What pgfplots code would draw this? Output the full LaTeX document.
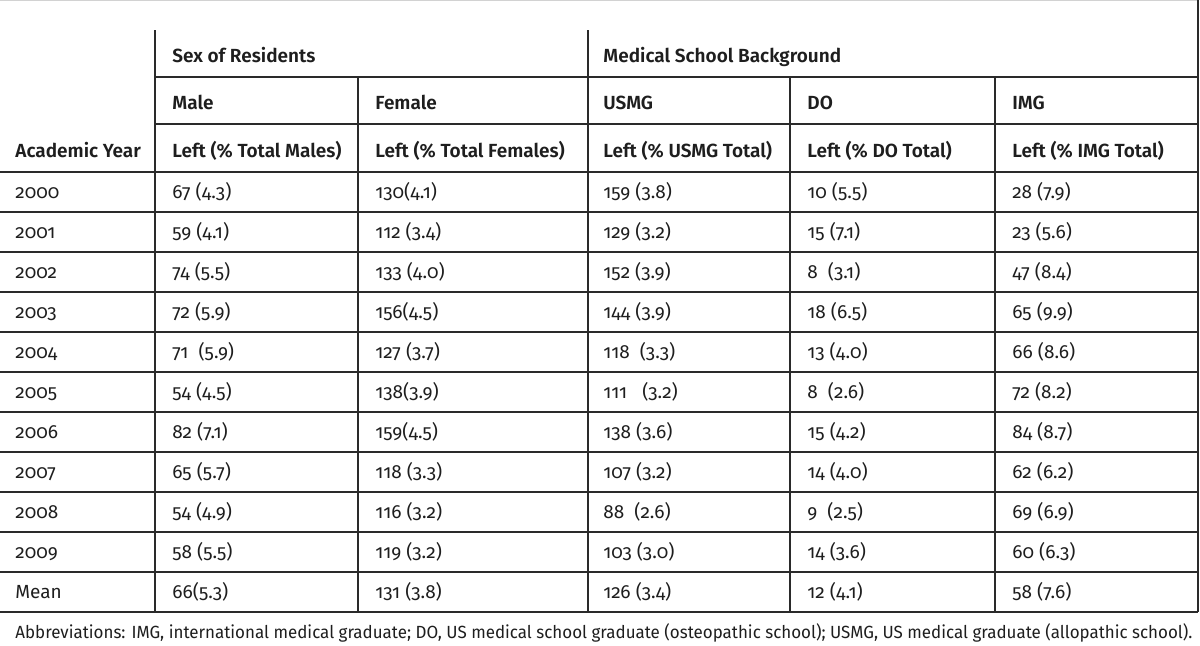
\documentclass[border=0pt]{standalone}
\usepackage{graphicx}
\usepackage{pgfplots}
\pgfplotsset{compat=1.18}
\usepackage{pgfplotstable}
\usepackage{fontspec}
\setmainfont{Fira Sans}[Numbers=OldStyle, BoldFont={Fira Sans SemiBold}]
\definecolor{ink}{HTML}{1E1E1E}
\definecolor{rule}{HTML}{2A2A2A}

\pgfplotstableread[col sep=comma]{
y,year,male,female,usmg,dom,img
198,2000,67 (4.3),130(4.1),159 (3.8),10 (5.5),28 (7.9)
238,2001,59 (4.1),112 (3.4),129 (3.2),15 (7.1),23 (5.6)
278,2002,74 (5.5),133 (4.0),152 (3.9),8~ (3.1),47 (8.4)
318,2003,72 (5.9),156(4.5),144 (3.9),18 (6.5),65 (9.9)
358,2004,71~ (5.9),127 (3.7),118~ (3.3),13 (4.0),66 (8.6)
398,2005,54 (4.5),138(3.9),111~~ (3.2),8~ (2.6),72 (8.2)
438,2006,82 (7.1),159(4.5),138 (3.6),15 (4.2),84 (8.7)
478,2007,65 (5.7),118 (3.3),107 (3.2),14 (4.0),62 (6.2)
518,2008,54 (4.9),116 (3.2),88~ (2.6),9~ (2.5),69 (6.9)
558,2009,58 (5.5),119 (3.2),103 (3.0),14 (3.6),60 (6.3)
598,Mean,66(5.3),131 (3.8),126 (3.4),12 (4.1),58 (7.6)
}\datatbl

\pgfplotstableread[col sep=comma]{
x,y,label
172,62,Sex of Residents
603,62,Medical School Background
172,109,Male
375,109,Female
603,109,USMG
807,109,DO
1012,109,IMG
15,157,Academic Year
172,157,Left (\% Total Males)
375,157,Left (\% Total Females)
603,157,Left (\% USMG Total)
807,157,Left (\% DO Total)
1012,157,Left (\% IMG Total)
}\headtbl

\begin{document}
\begin{tikzpicture}
\useasboundingbox (0,0) rectangle (600pt,322.5pt);
\begin{axis}[
  scale only axis, width=600pt, height=322.5pt,
  xmin=0, xmax=1200, ymin=0, ymax=645, y dir=reverse,
  hide axis, clip=false,
  every node near coord/.append style={anchor=base west, inner sep=0pt, text=ink, font=\fontsize{9.5}{11}\selectfont},
]
% rules
\draw[gray!35, line width=0.5pt] (0,0.6) -- (1199,0.6);
\draw[rule, line width=0.65pt] (1198,0) -- (1198,612);
\draw[rule, line width=0.65pt] (155,77) -- (1198,77);
\draw[rule, line width=0.65pt] (155,124) -- (1198,124);
\draw[rule, line width=1.25pt] (0,172) -- (1198,172);
\pgfplotsinvokeforeach{212,252,292,332,372,412,452,492,532,572,612}
  {\draw[rule, line width=0.65pt] (0,#1) -- (1198,#1);}
\draw[rule, line width=1.25pt] (155,30) -- (155,612);
\draw[rule, line width=0.65pt] (588,30) -- (588,612);
\pgfplotsinvokeforeach{358,790,995}
  {\draw[rule, line width=0.65pt] (#1,77) -- (#1,612);}
% header
\addplot[draw=none, mark=none, nodes near coords, point meta=explicit symbolic,
  every node near coord/.append style={font=\fontsize{9.5}{11}\selectfont\bfseries}]
  table[x=x, y=y, meta=label] {\headtbl};
% data
\addplot[draw=none, mark=none, nodes near coords, point meta=explicit symbolic]
  table[x expr=15, y=y, meta=year] {\datatbl};
\addplot[draw=none, mark=none, nodes near coords, point meta=explicit symbolic]
  table[x expr=172, y=y, meta=male] {\datatbl};
\addplot[draw=none, mark=none, nodes near coords, point meta=explicit symbolic]
  table[x expr=375, y=y, meta=female] {\datatbl};
\addplot[draw=none, mark=none, nodes near coords, point meta=explicit symbolic]
  table[x expr=603, y=y, meta=usmg] {\datatbl};
\addplot[draw=none, mark=none, nodes near coords, point meta=explicit symbolic]
  table[x expr=807, y=y, meta=dom] {\datatbl};
\addplot[draw=none, mark=none, nodes near coords, point meta=explicit symbolic]
  table[x expr=1012, y=y, meta=img] {\datatbl};
% footnote
\node[anchor=base west, inner sep=0pt, text=ink, font=\fontsize{8.8}{10}\selectfont] at (15,638)
  {\resizebox{588.5pt}{\height}{Abbreviations: IMG, international medical graduate; DO, US medical school graduate (osteopathic school); USMG, US medical graduate (allopathic school).}};
\end{axis}
\end{tikzpicture}
\end{document}
